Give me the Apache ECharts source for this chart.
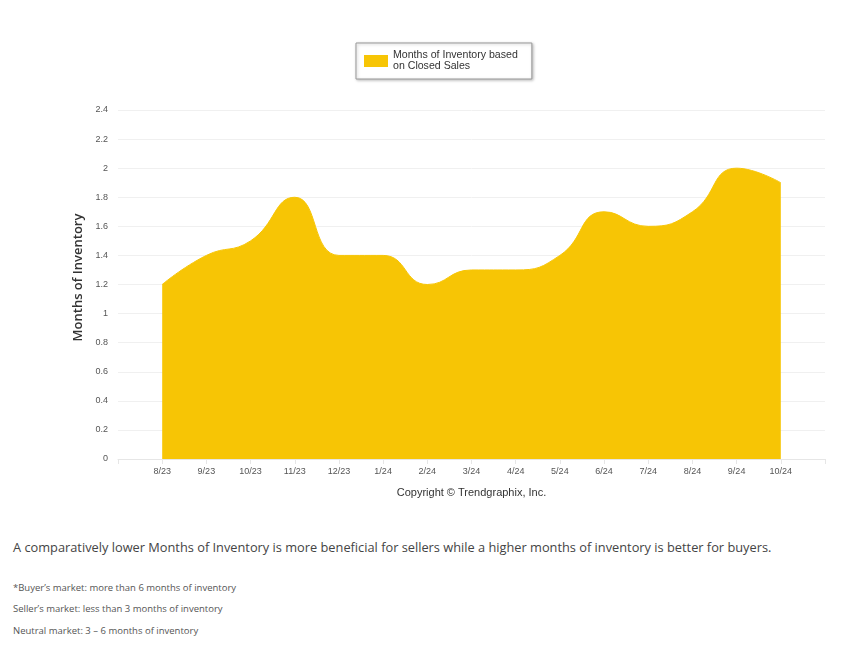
<!DOCTYPE html>
<html>
<head>
<meta charset="utf-8">
<title>Months of Inventory</title>
<script src="https://cdn.jsdelivr.net/npm/echarts@6/dist/echarts.min.js"></script>
<style>
  body { margin:0; padding:0; background:#fff; font-family:"Open Sans", sans-serif; }
  #main { position:absolute; left:0; top:0; width:855px; height:520px; }
  .note { position:absolute; left:13px; color:#555; }
</style>
</head>
<body>
<div id="main"></div>
<div class="note" style="top:538px;font-size:12.8px;color:#444;">A comparatively lower Months of Inventory is more beneficial for sellers while a higher months of inventory is better for buyers.</div>
<div class="note" style="top:581px;font-size:9.5px;">*Buyer’s market: more than 6 months of inventory</div>
<div class="note" style="top:602px;font-size:9.5px;">Seller’s market: less than 3 months of inventory</div>
<div class="note" style="top:624px;font-size:9.5px;">Neutral market: 3 – 6 months of inventory</div>
<script>
// months shown on the x axis (blank slots pad both ends)
var months = ['', '8/23', '9/23', '10/23', '11/23', '12/23', '1/24', '2/24', '3/24',
              '4/24', '5/24', '6/24', '7/24', '8/24', '9/24', '10/24', ''];
var inventory = [null, 1.2, 1.4, 1.5, 1.8, 1.4, 1.4, 1.2, 1.3,
                 1.3, 1.4, 1.7, 1.6, 1.7, 2.0, 1.9, null];
var yTicks = [0, 0.2, 0.4, 0.6, 0.8, 1, 1.2, 1.4, 1.6, 1.8, 2, 2.2, 2.4];

var myChart = echarts.init(document.getElementById('main'));
var option = {
    animation: false,
    legend: {
        left: 356, top: 43,
        padding: [7, 14, 7, 8],
        itemWidth: 24, itemHeight: 12,
        itemGap: 6,
        backgroundColor: '#fff',
        borderColor: '#999', borderWidth: 1, borderRadius: 0,
        shadowColor: 'rgba(0,0,0,0.25)', shadowBlur: 3, shadowOffsetX: 1, shadowOffsetY: 1,
        formatter: function () { return 'Months of Inventory based\non Closed Sales'; },
        textStyle: { fontFamily: 'Liberation Sans, Arial', fontSize: 10.6, lineHeight: 11, color: '#333' },
        data: [{ name: 'Months of Inventory', icon: 'rect' }]
    },
    grid: { left: 118, right: 30, top: 110, bottom: 61 },
    xAxis: {
        type: 'category',
        boundaryGap: false,
        data: months,
        name: 'Copyright © Trendgraphix, Inc.',
        nameLocation: 'middle',
        nameGap: 28,
        nameTextStyle: { fontFamily: 'Liberation Sans, Arial', fontSize: 11, color: '#333' },
        axisLine: { lineStyle: { color: '#e6e6e6' } },
        axisTick: { show: true, lineStyle: { color: '#e6e6e6' } },
        axisLabel: { fontFamily: 'Liberation Sans Narrow, Liberation Sans, Arial', fontSize: 9, color: '#555', margin: 8 },
        splitLine: { show: false }
    },
    yAxis: {
        type: 'value',
        min: yTicks[0], max: yTicks[yTicks.length - 1], interval: 0.2,
        name: 'Months of Inventory',
        nameLocation: 'middle',
        nameGap: 32,
        nameTextStyle: { fontFamily: 'Open Sans', fontSize: 13, fontWeight: 600, color: '#333', padding: [0, 0, 0, 14] },
        axisLine: { show: false },
        axisTick: { show: false },
        axisLabel: {
            fontFamily: 'Liberation Sans Narrow, Liberation Sans, Arial', fontSize: 9, color: '#555', margin: 10,
            formatter: function (v) { return String(Math.round(v * 10) / 10); }
        },
        splitLine: { lineStyle: { color: '#f0f0f0' } }
    },
    series: [{
        name: 'Months of Inventory',
        type: 'line',
        smooth: 0.5,
        symbol: 'none',
        connectNulls: false,
        data: inventory,
        itemStyle: { color: '#F7C505' },
        lineStyle: { color: '#F7C505', width: 1 },
        areaStyle: { color: '#F7C505', opacity: 1 }
    }]
};
myChart.setOption(option);
</script>
</body>
</html>
